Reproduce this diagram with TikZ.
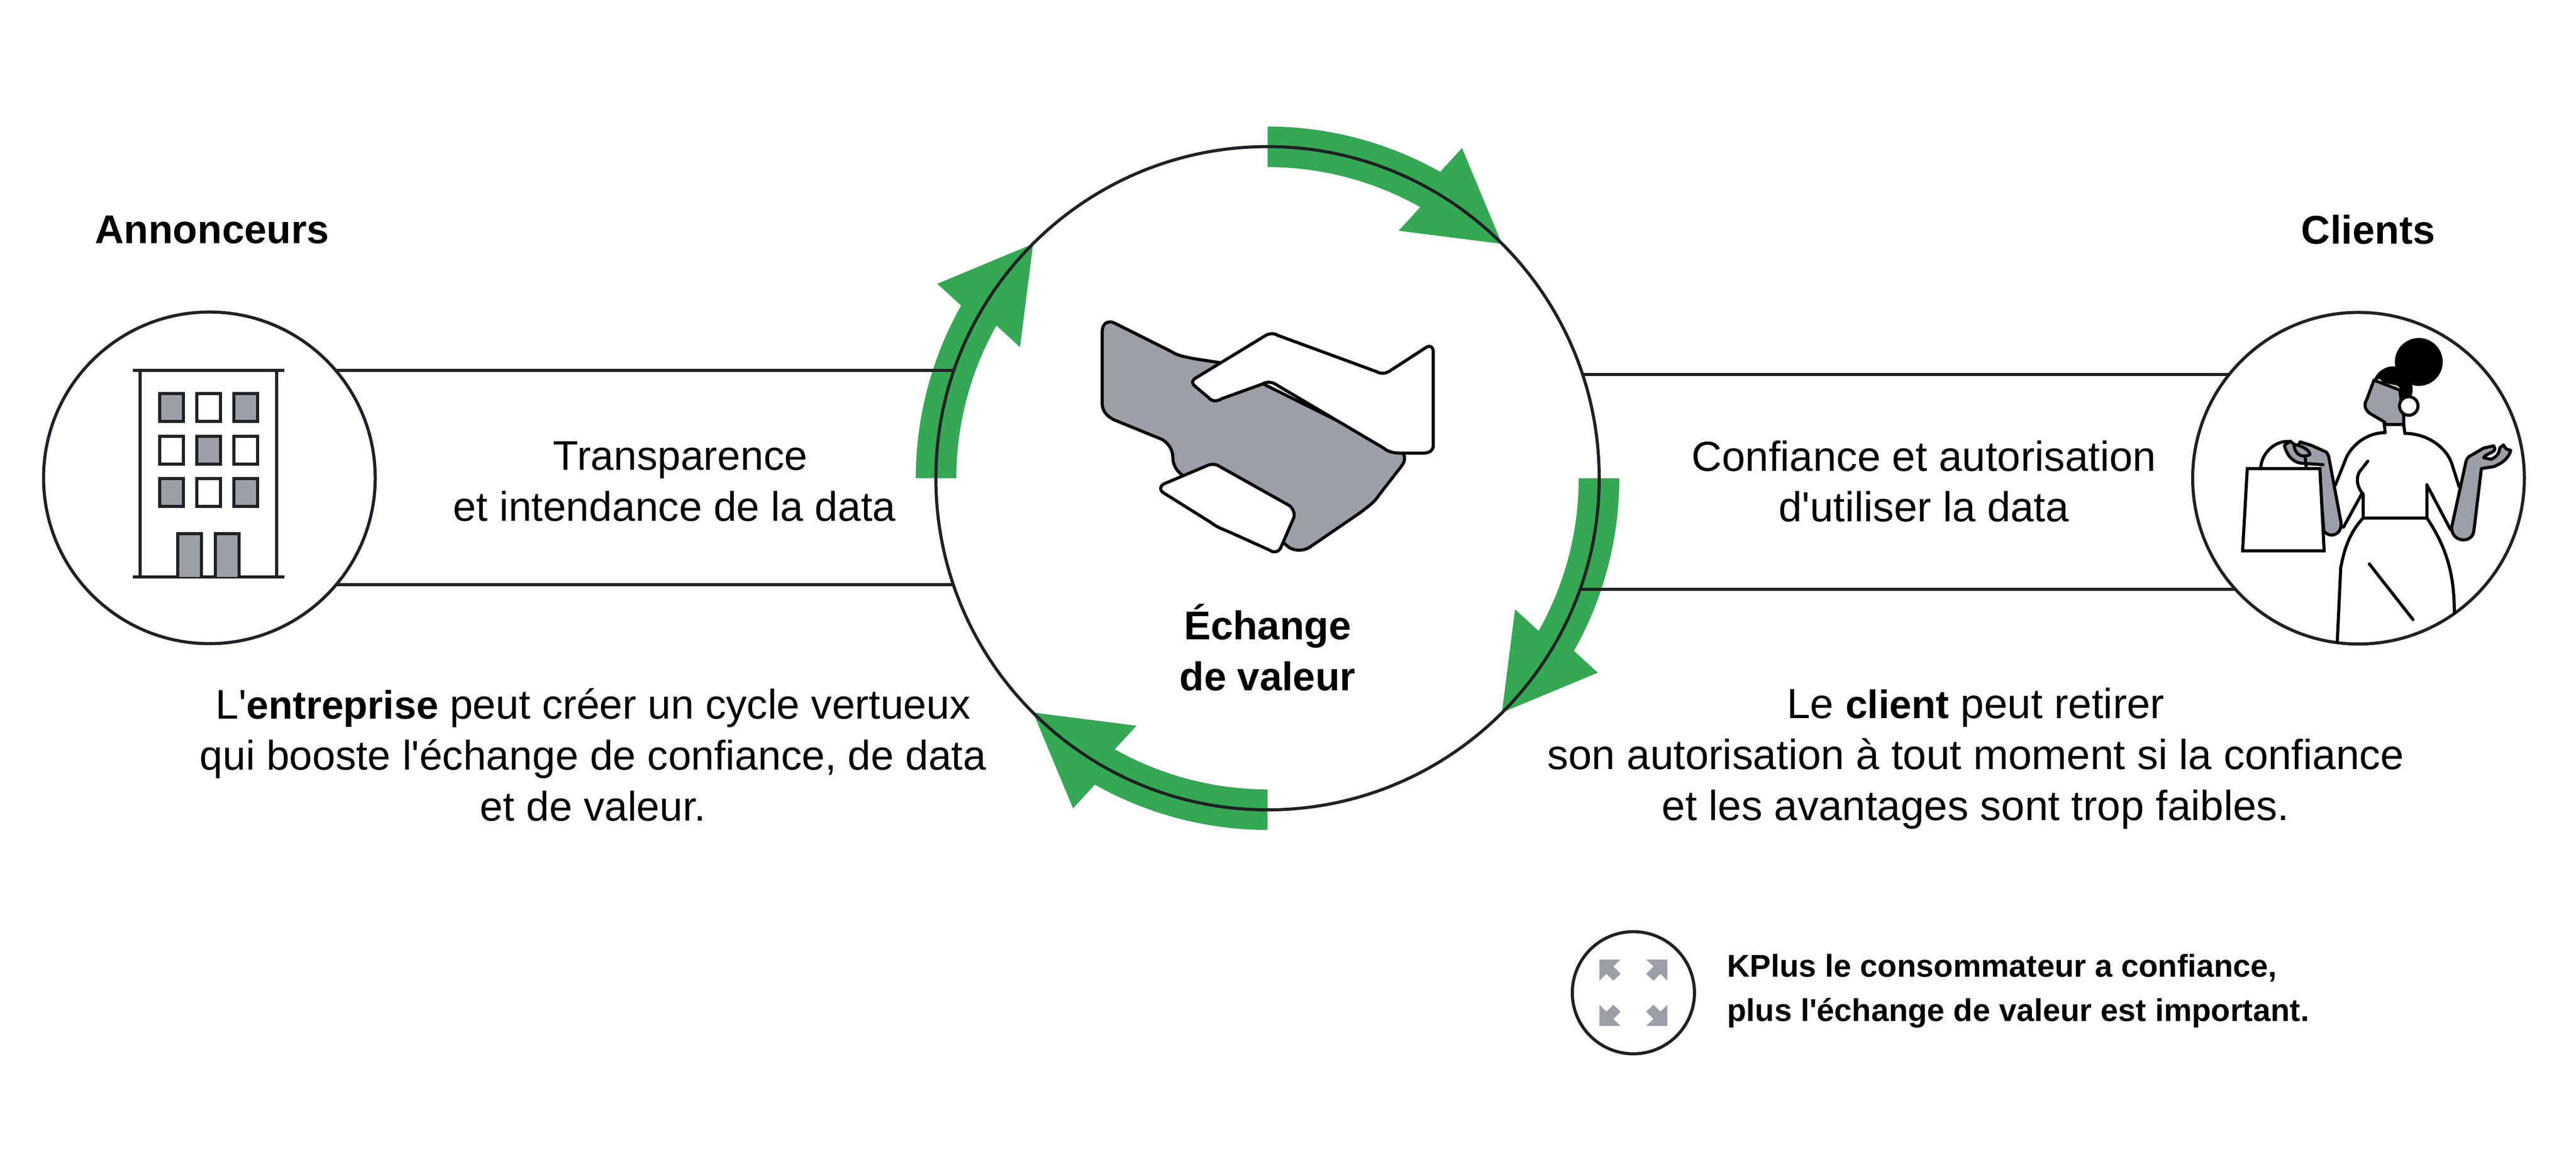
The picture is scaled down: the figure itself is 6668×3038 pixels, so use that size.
\documentclass[tikz,border=0pt]{standalone}
\usepackage{fontspec}
\setmainfont{Liberation Sans}
\newfontfamily\plainquote[Ligatures=NoCommon]{Liberation Sans}
\usetikzlibrary{positioning}

\definecolor{cyclegreen}{HTML}{34A853}
\definecolor{handgrey}{HTML}{9AA0A6}
\definecolor{inkline}{HTML}{202124}
\newcommand{\apos}{{\plainquote\char"0027 }}
\newcommand{\boldword}[1]{{\fontsize{29.2}{37.5}\selectfont\bfseries #1}}

\tikzset{
	ring/.style={circle,draw=inkline,line width=0.08cm,inner sep=0pt,outer sep=0pt},
	link/.style={draw=inkline,line width=0.08cm},
	ink/.style={draw=black,line width=0.08cm,line join=round,line cap=round},
	greyink/.style={ink,fill=handgrey},
	whiteink/.style={ink,fill=white},
	body/.style={inner sep=0pt,align=center,font=\fontsize{30.5}{37.5}\selectfont},
	wider/.style={inner sep=0pt,align=center,font=\fontsize{31}{37.5}\selectfont},
	title/.style={inner sep=0pt,align=center,font=\fontsize{29.5}{37.5}\selectfont\bfseries},
}

\begin{document}
\begin{tikzpicture}[x=0.01cm,y=-0.01cm]
	\useasboundingbox (0,0) rectangle (6668,3038);
	\coordinate (mid) at (3281,1238);
	\coordinate (railA) at (0,959);
	\coordinate (railB) at (0,1514);
	\coordinate (railC) at (0,969);
	\coordinate (railD) at (0,1525);

% fleches du cycle
	\foreach \rot in {0,-90,-180,-270}{
		\begin{scope}[shift={(mid)},x=0.01cm,y=0.01cm,rotate=\rot]
			\fill[cyclegreen] (90:910.5) arc (90:60.6:910.5) -- (59.5:992) -- (45:858)
				-- (62.1:725) -- (60.6:805.5) arc (60.6:90:805.5) -- cycle;
		\end{scope}
	}

% cercles
	\node[ring,minimum size=17.16cm] (exchange) at (mid) {};
	\node[ring,minimum size=8.58cm] (advertisers) at (542,1237) {};
	\node[ring,minimum size=8.58cm] (clients) at (6105,1238) {};
	\node[ring,minimum size=3.16cm] (trust) at (4228,2570) {};

% liaisons
	\draw[link] (advertisers.40.4 |- railA) -- (exchange.161 |- railA);
	\draw[link] (advertisers.-40.2 |- railB) -- (exchange.199 |- railB);
	\draw[link] (exchange.18.3 |- railC) -- (clients.141.2 |- railC);
	\draw[link] (exchange.-19.5 |- railD) -- (clients.222 |- railD);

% immeuble
	\draw[link] (344,959) -- (736,959);
	\draw[link] (344,1494) -- (736,1494);
	\draw[link] (363,959) -- (363,1494);
	\draw[link] (716,959) -- (716,1494);
	\foreach \x/\y/\tone in {413/1019/handgrey, 509/1019/white, 605/1019/handgrey,
		413/1130/white, 509/1130/handgrey, 605/1130/white,
		413/1239/handgrey, 509/1239/white, 605/1239/handgrey}
		\draw[link,fill=\tone] (\x,\y) rectangle ++(62,72);
	\foreach \x in {460,557}
		\draw[link,fill=handgrey] (\x,1494) -- (\x,1382) -- ++(62,0) -- ++(0,112);

% poignee de main
	\draw[greyink] (2853,860) -- (2853,1044) .. controls (2853,1065) and (2866,1078) .. (2884,1087)
		-- (3009,1138) .. controls (3025,1148) and (3036,1165) .. (3036,1185)
		.. controls (3036,1202) and (3045,1218) .. (3058,1228) -- (3321,1404) -- (3335,1416)
		.. controls (3350,1427) and (3375,1427) .. (3391,1416) -- (3521,1327)
		.. controls (3543,1310) and (3558,1300) .. (3570,1281) -- (3629,1205)
		.. controls (3637,1193) and (3637,1185) .. (3633,1174) -- (3159,939) -- (3093,929)
		.. controls (3070,924) and (3050,922) .. (3030,909) -- (2888,838)
		.. controls (2875,830) and (2853,830) .. (2853,860) -- cycle;
	\draw[whiteink] (3096,978) -- (3272,871) .. controls (3280,865) and (3295,860) .. (3307,868)
		-- (3563,962) .. controls (3573,968) and (3586,968) .. (3598,960) -- (3689,901)
		.. controls (3700,892) and (3710,897) .. (3710,911) -- (3710,1154)
		.. controls (3710,1165) and (3700,1173) .. (3686,1173) -- (3626,1173)
		.. controls (3608,1173) and (3593,1170) .. (3580,1159) -- (3307,998)
		.. controls (3297,990) and (3282,986) .. (3268,994) -- (3163,1032)
		.. controls (3150,1040) and (3137,1040) .. (3128,1029) -- (3096,1002)
		.. controls (3084,993) and (3084,986) .. (3096,978) -- cycle;
	\draw[whiteink] (3012,1253) -- (3121,1207) .. controls (3132,1201) and (3146,1200) .. (3156,1207)
		-- (3338,1309) .. controls (3348,1318) and (3352,1330) .. (3349,1340) -- (3316,1416)
		.. controls (3312,1428) and (3298,1433) .. (3286,1424) -- (3184,1378)
		.. controls (3165,1370) and (3150,1365) .. (3135,1353) -- (3012,1276)
		.. controls (3002,1270) and (3002,1259) .. (3012,1253) -- cycle;

% cliente
	\draw[greyink] (6145,984) -- (6126,1035) .. controls (6116,1050) and (6125,1066) .. (6139,1073)
		-- (6173,1093) -- (6173,1099) -- (6222,1099) -- (6222,1078) -- (6215,1033)
		-- (6212,1010) -- cycle;
	\fill (6261,937) circle (62);
	\fill (6145,984) .. controls (6150,965) and (6175,945) .. (6200,949) -- (6225,952) -- (6245,1001)
		-- (6245,1015) -- (6241,1030) -- (6217,1033) .. controls (6217,1015) and (6215,1000) .. (6200,997)
		.. controls (6185,994) and (6165,992) .. (6161,981) -- cycle;
	\draw[whiteink] (6235,1051) circle (24);
	\draw[ink] (6171,1093) -- (6174,1120);
	\draw[ink] (6222,1099) -- (6225,1122);
	\draw[ink] (6174,1120) .. controls (6125,1120) and (6085,1155) .. (6072,1188) -- (6045,1256);
	\draw[ink] (6225,1122) .. controls (6280,1122) and (6330,1155) .. (6346,1199) -- (6365,1259);
	\draw[ink] (6066,1365) -- (6113,1279);
	\draw[ink] (6129,1194) -- (6107,1222) .. controls (6097,1240) and (6103,1265) .. (6117,1279)
		-- (6117,1341) -- (6282,1341) -- (6282,1255) -- (6343,1371);
	\draw[ink] (6117,1341) .. controls (6075,1385) and (6065,1440) .. (6059,1469) -- (6050,1661);
	\draw[ink] (6282,1341) .. controls (6335,1420) and (6353,1490) .. (6353,1586);
	\draw[ink] (6133,1460) -- (6246,1604);
	\draw[greyink] (6381,1205) -- (6346,1365) .. controls (6345,1405) and (6402,1410) .. (6404,1371)
		-- (6423,1213) -- (6455,1208) .. controls (6475,1200) and (6493,1188) .. (6499,1166)
		-- (6487,1162) -- (6480,1152) -- (6471,1159) .. controls (6468,1175) and (6464,1182) .. (6448,1189)
		-- (6429,1185) .. controls (6432,1175) and (6458,1172) .. (6458,1162) -- (6455,1154)
		-- (6429,1160) -- (6391,1182) .. controls (6384,1188) and (6383,1195) .. (6381,1205);
	\draw[greyink] (6003,1213) -- (6015,1374) .. controls (6030,1395) and (6062,1385) .. (6060,1354)
		-- (6029,1188) .. controls (6027,1175) and (6021,1170) .. (6021,1170) -- (5983,1153)
		-- (5954,1144) -- (5948,1153) -- (5938,1150) -- (5928,1142) -- (5913,1153)
		.. controls (5920,1180) and (5935,1195) .. (5954,1199) -- (6013,1203);
	\draw[ink] (5852,1213) .. controls (5852,1176) and (5887,1140) .. (5925,1143);
	\draw[ink] (5970,1213) -- (5967,1185);
	\draw[ink] (5938,1153) .. controls (5942,1180) and (5960,1185) .. (5979,1177)
		.. controls (5980,1168) and (5965,1158) .. (5950,1153);
	\draw[whiteink,line join=miter] (5817,1213) -- (6005,1213) -- (6016,1426) -- (5805,1426) -- cycle;

% petites fleches
	\foreach \sx/\sy in {1/1,-1/1,1/-1,-1/-1}{
		\begin{scope}[shift={(trust.center)},xscale=\sx,yscale=\sy]
			\fill[handgrey] (-88,-86) -- ++(55,0) -- ++(-19,18) -- ++(19,19) -- ++(-19,18)
				-- ++(-18,-18) -- ++(-18,18) -- cycle;
		\end{scope}
	}

% textes
	\node[title] (advertisersname) at (549,595) {Annonceurs};
	\node[title] (clientsname) at (6130,595) {Clients};
	\node[title] (exchangename) at (3281,1676) {Échange\\de valeur};
	\node[body] (leftband) at (1746,1246) {\hspace*{0.3cm}Transparence\\et intendance de la data};
	\node[body,font=\fontsize{30.9}{37.5}\selectfont] (rightband) at (4980,1246) {Confiance et autorisation\\d\apos utiliser la data};
	\node[body] (leftnote) at (1535,1954) {L\apos\boldword{entreprise} peut créer un cycle vertueux\\qui booste l\apos échange de confiance, de data\\et de valeur.};
	\node[wider] (rightnote) at (5114,1964) {Le \boldword{client} peut retirer\\son autorisation à tout moment si la confiance\\et les avantages sont trop faibles.};
	\node[inner sep=0pt,align=left,font=\fontsize{23.2}{32.5}\selectfont\bfseries,right=0.84cm of trust.east,yshift=0.04cm] (trustnote) {KPlus le consommateur a confiance,\\plus l\apos échange de valeur est important.};
\end{tikzpicture}
\end{document}
